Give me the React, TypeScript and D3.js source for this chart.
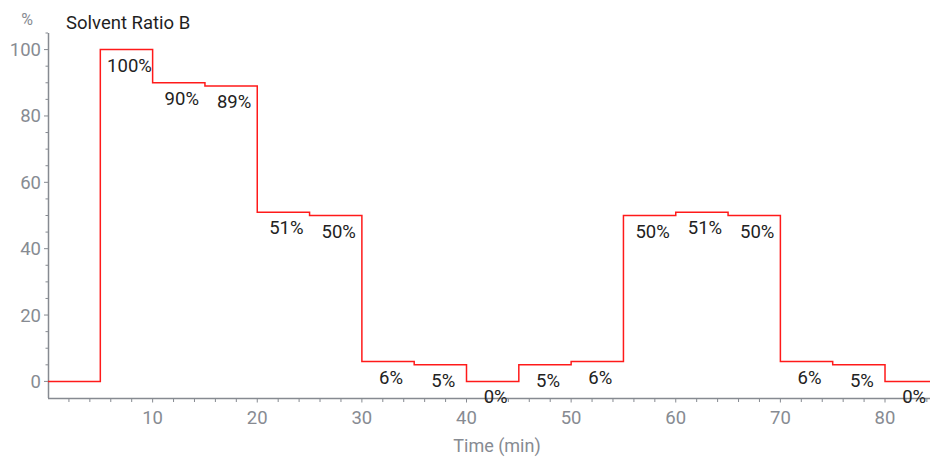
import React from "react";
import * as d3 from "d3";

const stepStart = [0, 5, 10, 15, 20, 25, 30, 35, 40, 45, 50, 55, 60, 65, 70, 75, 80];
const stepEnd = 85;
const ratioB = [0, 100, 90, 89, 51, 50, 6, 5, 0, 5, 6, 50, 51, 50, 6, 5, 0];
const labelled = [false, true, true, true, true, true, true, true, true, true, true, true, true, true, true, true, true];
const xMajorTicks = [10, 20, 30, 40, 50, 60, 70, 80];
const yMajorTicks = [0, 20, 40, 60, 80, 100];
const title = "Solvent Ratio B";
const yUnit = "%";
const xTitle = "Time (min)";

const W = 930;
const H = 457;
const M = { left: 48, right: 930, top: 33, bottom: 398 };
const FONT = "Roboto, 'Noto Sans', sans-serif";
const AXIS = "#868a91";
const TICKTXT = "#878b92";

export default function App() {
  const x = d3.scaleLinear().domain([0, 84.3]).range([M.left, M.right]);
  const y = d3.scaleLinear().domain([-5, 105]).range([M.bottom, M.top]);

  const pts: [number, number][] = stepStart.map((t, i) => [t, ratioB[i]]);
  pts.push([stepEnd, ratioB[ratioB.length - 1]]);
  const line = d3
    .line<[number, number]>()
    .x((d) => x(d[0]))
    .y((d) => y(d[1]))
    .curve(d3.curveStepAfter);

  const xMinor = d3.range(0, 85, 2).filter((v) => v % 10 !== 0 && x(v) <= M.right);
  const yMinor = d3.range(0, 106, 5).filter((v) => v % 20 !== 0);

  return (
    <svg
      width={W}
      height={H}
      style={{ position: "absolute", left: 0, top: 0, fontFamily: FONT }}
    >
      <defs>
        <clipPath id="plotclip">
          <rect x={M.left} y={0} width={M.right - M.left} height={M.bottom} />
        </clipPath>
      </defs>
      {/* unit and title */}
      <text x={27} y={25} fontSize={16} fill={TICKTXT} textAnchor="middle">
        {yUnit}
      </text>
      <text x={66} y={29} fontSize={18.5} fill="#1f1f1f">
        {title}
      </text>

      {/* y axis */}
      <line x1={M.left + 0.5} x2={M.left + 0.5} y1={M.top} y2={M.bottom} stroke={AXIS} strokeWidth={1.5} />
      {yMajorTicks.map((v) => (
        <g key={"ym" + v}>
          <line x1={M.left - 4} x2={M.left} y1={y(v)} y2={y(v)} stroke={AXIS} strokeWidth={1} />
          <text x={M.left - 7} y={y(v) + 6.5} fontSize={18.5} fill={TICKTXT} textAnchor="end">
            {v}
          </text>
        </g>
      ))}
      {yMinor.map((v) => (
        <line key={"yn" + v} x1={M.left - 2.5} x2={M.left} y1={y(v)} y2={y(v)} stroke={AXIS} strokeWidth={1} />
      ))}

      {/* x axis */}
      <line x1={M.left} x2={M.right} y1={M.bottom + 0.5} y2={M.bottom + 0.5} stroke={AXIS} strokeWidth={1.5} />
      {xMinor.map((v) => (
        <line key={"xn" + v} x1={x(v)} x2={x(v)} y1={M.bottom} y2={M.bottom + 4} stroke={AXIS} strokeWidth={1} />
      ))}
      {xMajorTicks.map((v) => (
        <g key={"xm" + v}>
          <line x1={x(v)} x2={x(v)} y1={M.bottom} y2={M.bottom + 4.5} stroke={AXIS} strokeWidth={1} />
          <text x={x(v)} y={424} fontSize={18.5} fill={TICKTXT} textAnchor="middle">
            {v}
          </text>
        </g>
      ))}
      <text x={(M.left + M.right) / 2 + 8} y={452} fontSize={18} fill={TICKTXT} textAnchor="middle">
        {xTitle}
      </text>

      {/* step line */}
      <path d={line(pts) || ""} fill="none" stroke="#ff1a1a" strokeWidth={1.5} clipPath="url(#plotclip)" />

      {/* labels */}
      {stepStart.map((t, i) => {
        if (!labelled[i]) return null;
        const t1 = i + 1 < stepStart.length ? stepStart[i + 1] : stepEnd;
        const cx = x((t + t1) / 2) + 3;
        return (
          <text key={"lb" + i} x={cx} y={y(ratioB[i]) + 22} fontSize={18.5} fill="#222" textAnchor="middle">
            {ratioB[i] + "%"}
          </text>
        );
      })}
    </svg>
  );
}
